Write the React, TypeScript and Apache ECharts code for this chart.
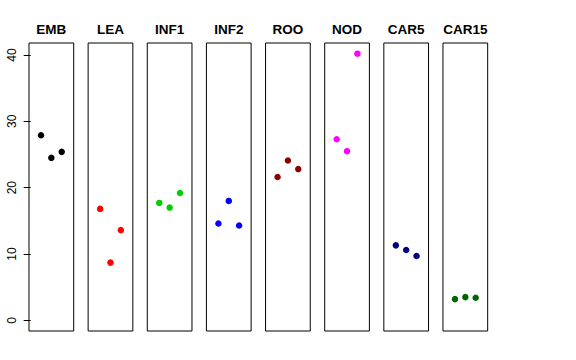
import React, { useEffect, useRef } from "react";
import * as echarts from "echarts";

const categories = ["EMB", "LEA", "INF1", "INF2", "ROO", "NOD", "CAR5", "CAR15"];
const colors = ["#000000", "#FF0000", "#00CD00", "#0000FF", "#8B0000", "#FF00FF", "#000080", "#006400"];
const xPositions = [1, 2, 3];
const EMB = [27.9, 24.5, 25.4];
const LEA = [16.8, 8.7, 13.6];
const INF1 = [17.7, 17.0, 19.2];
const INF2 = [14.6, 18.0, 14.3];
const ROO = [21.6, 24.1, 22.8];
const NOD = [27.3, 25.5, 40.2];
const CAR5 = [11.3, 10.6, 9.7];
const CAR15 = [3.2, 3.5, 3.4];
const seriesValues = [EMB, LEA, INF1, INF2, ROO, NOD, CAR5, CAR15];
const yTicks = [0, 10, 20, 30, 40];

const FONT = "'Liberation Sans', Arial, Helvetica, sans-serif";

export default function App() {
  const ref = useRef<HTMLDivElement>(null);
  useEffect(() => {
    if (!ref.current) return;
    const chart = echarts.init(ref.current, null, { renderer: "svg" });
    const allVals = seriesValues.flat();
    const yMaxData = Math.max(0, ...allVals);
    const yMinData = Math.min(0, ...allVals);
    const yPad = (yMaxData - yMinData) * 0.04;
    const yMin = yMinData - yPad;
    const yMax = yMaxData + yPad;
    const xMinData = 0, xMaxData = 4;
    const xPad = (xMaxData - xMinData) * 0.04;

    const panelLeft = 29;
    const panelStep = 59.14;
    const panelWidth = 44.7;
    const panelTop = 43;
    const panelHeight = 288;

    const grids = categories.map((_, i) => ({
      left: panelLeft + panelStep * i,
      top: panelTop,
      width: panelWidth,
      height: panelHeight,
      show: true,
      borderColor: "#000",
      borderWidth: 1,
      backgroundColor: "#fff",
      containLabel: false,
    }));
    const xAxes = categories.map((_, i) => ({
      type: "value",
      gridIndex: i,
      min: xMinData - xPad,
      max: xMaxData + xPad,
      show: false,
    }));
    const yAxes = categories.map((_, i) => ({
      type: "value",
      gridIndex: i,
      min: yMin,
      max: yMax,
      show: i === 0,
      axisLine: { show: false },
      splitLine: { show: false },
      axisTick: {
        show: true,
        length: 7,
        customValues: yTicks,
        lineStyle: { color: "#000", width: 1 },
      },
      axisLabel: {
        show: true,
        customValues: yTicks,
        rotate: 90,
        margin: 11,
        color: "#000",
        fontSize: 12,
        fontFamily: FONT,
      },
    }));
    const series = seriesValues.map((vals, i) => ({
      type: "scatter",
      xAxisIndex: i,
      yAxisIndex: i,
      symbol: "circle",
      symbolSize: 6.5,
      itemStyle: { color: colors[i], opacity: 1 },
      data: vals.map((v, j) => [xPositions[j], v]),
    }));
    const graphic = categories.map((c, i) => ({
      type: "text",
      x: panelLeft + panelStep * i + panelWidth / 2,
      y: 29.5,
      style: {
        text: c,
        fill: "#000",
        font: `bold 13.5px ${FONT}`,
        textAlign: "center",
        textVerticalAlign: "middle",
      },
    }));

    chart.setOption({
      animation: false,
      backgroundColor: "#fff",
      grid: grids,
      xAxis: xAxes,
      yAxis: yAxes,
      series,
      graphic,
    });
    return () => chart.dispose();
  }, []);
  return (
    <div
      ref={ref}
      style={{ position: "fixed", left: 0, top: 0, width: 576, height: 360, background: "#fff" }}
    />
  );
}
